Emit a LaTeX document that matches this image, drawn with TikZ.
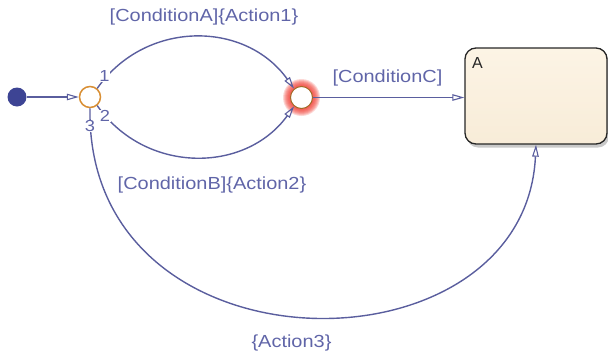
\documentclass[tikz,border=0pt]{standalone}
\usepackage{fontspec}
\setmainfont{Liberation Sans}
\newfontfamily\lblfont[FakeStretch=1.14]{Liberation Sans}
\usetikzlibrary{arrows.meta}
\definecolor{edgec}{HTML}{5A5E9E}
\definecolor{textc}{HTML}{6065A8}
\definecolor{dotc}{HTML}{3D4494}
\definecolor{junc}{HTML}{D98F34}
\definecolor{stateTop}{HTML}{FCF4E5}
\definecolor{stateBot}{HTML}{F8ECD8}
\definecolor{glowc}{HTML}{F03A30}
\tikzset{
  edge/.style={draw=edgec, line width=1.4pt, -{Triangle[open, length=12pt, width=6.5pt, line width=1.1pt]}},
  lbl/.style={text=textc, font=\lblfont\fontsize{17.5}{19}\selectfont, inner sep=0pt},
  num/.style={text=textc, font=\lblfont\fontsize{16}{17}\selectfont, inner sep=0.5pt, fill=white},
  junction/.style={circle, draw=junc, line width=1.5pt, fill=white, minimum size=21pt, inner sep=0pt},
}
\begin{document}
\begin{tikzpicture}[x=1pt,y=-1pt]
\useasboundingbox (0,0) rectangle (608,354);
% default transition dot
\node[circle, fill=dotc, minimum size=19pt, inner sep=0pt] (dot) at (17,97) {};
% junction 1
\node[junction] (J1) at (90,97) {};
% junction 2 with glow
\foreach \r in {18.5,17.5,...,11.5} \fill[glowc, opacity=0.2] (301.5,97.5) circle (\r);
\node[circle, draw=junc!75!black, line width=1pt, fill=white, minimum size=22pt, inner sep=0pt] (J2) at (301.5,97.5) {};
% state A
\fill[black!30, opacity=0.7, rounded corners=11pt] (467,51) rectangle (609,147.5);
\node[rectangle, rounded corners=11pt, draw=black!85, line width=1.3pt, top color=stateTop, bottom color=stateBot, minimum width=142pt, minimum height=96pt, inner sep=0pt] (A) at (536,96) {};
\node[font=\fontsize{16}{17}\selectfont, text=black!85, inner sep=0pt] (Alab) at (477.5,63) {A};
% transitions
\draw[edge] (dot) -- (J1);
\draw[edge] (J1.50) .. controls (145,20) and (245,20) .. (J2.130);
\draw[edge] (J1.-50) .. controls (145,174) and (245,174) .. (J2.-130);
\draw[edge] (J2.east) -- (J2.east -| A.west);
\draw[edge] (J1.south) .. controls (85,380) and (525,380) .. (A.south);
% labels
\node[lbl] (la) at (204,17) {[ConditionA]\{Action1\}};
\node[lbl] (lb) at (212,185) {[ConditionB]\{Action2\}};
\node[lbl] (lc) at (387.5,78) {[ConditionC]};
\node[lbl] (ld) at (291.5,343) {\{Action3\}};
\node[num] (n1) at (104.5,75.5) {1};
\node[num] (n2) at (105,116) {2};
\node[num] (n3) at (90,126) {3};
\end{tikzpicture}
\end{document}
